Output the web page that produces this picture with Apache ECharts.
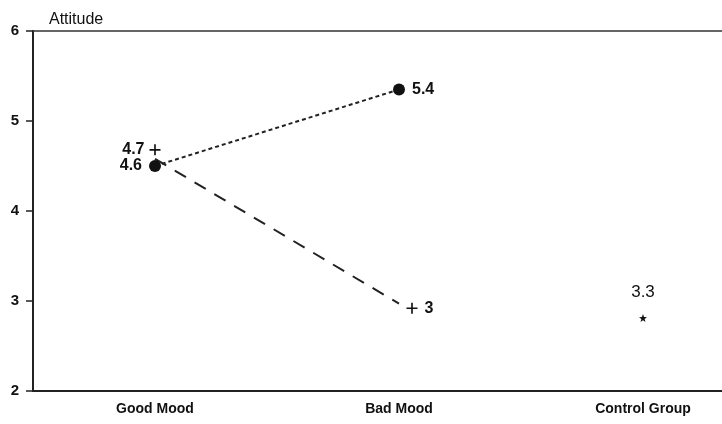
<!DOCTYPE html>
<html>
<head>
<meta charset="utf-8">
<script src="https://cdn.jsdelivr.net/npm/echarts@6/dist/echarts.min.js"></script>
<style>html,body{margin:0;padding:0;background:#fff}#c{width:722px;height:424px}</style>
</head>
<body>
<div id="c"></div>
<script>
var categories = ['Good Mood', 'Bad Mood', 'Control Group'];
var yTicks = [2, 3, 4, 5, 6];
// positions
var dottedLine = [4.5, 5.35, null];       // filled circles
var dashedLine = [4.58, 2.97, null];      // dashed line
var plusGood = [4.68, null, null];        // plus marker, good mood
var plusBad = [null, 2.92, null];         // plus marker, bad mood (drawn right of tick)
var starControl = [null, null, 2.81];     // star marker, control group
// printed value labels
var circleLabels = ['4.6', '5.4', ''];
var circleLabelPos = ['left', 'right', 'right'];
var plusLabels = ['4.7', '3', ''];
var starLabels = ['', '', '3.3'];

var FONT = 'Liberation Sans';
var TXT = '#111';
var lblStyle = {fontFamily: FONT, fontSize: 16, fontWeight: 'bold', color: TXT};

var chart = echarts.init(document.getElementById('c'), null, {renderer: 'canvas'});
var plusPath = 'path://M-0.9,-6H0.9V-0.9H6V0.9H0.9V6H-0.9V0.9H-6V-0.9H-0.9Z';
chart.setOption({
  animation: false,
  backgroundColor: '#fff',
  title: {
    text: 'Attitude', left: 44, top: 7,
    textStyle: {fontFamily: FONT, fontSize: 16, fontWeight: 'normal', color: TXT}
  },
  grid: {left: 33, width: 732, top: 31, height: 360, containLabel: false, outerBoundsMode: 'none'},
  xAxis: [{
    type: 'category', data: categories, boundaryGap: true,
    axisLine: {lineStyle: {color: '#222', width: 2}},
    axisTick: {alignWithLabel: true, length: 7, lineStyle: {color: '#222', width: 2}},
    axisLabel: {margin: 11, fontFamily: FONT, fontSize: 14, fontWeight: 'bold', color: TXT, interval: 0},
    splitLine: {show: false}
  }, {
    type: 'category', data: categories, position: 'top',
    axisLine: {lineStyle: {color: '#333', width: 1.5}},
    axisTick: {show: false}, axisLabel: {show: false}, splitLine: {show: false}
  }],
  yAxis: {
    type: 'value', min: yTicks[0], max: yTicks[yTicks.length - 1], interval: 1,
    axisLine: {show: true, lineStyle: {color: '#222', width: 2}},
    axisTick: {show: true, length: 7, lineStyle: {color: '#222', width: 1.5}},
    axisLabel: {margin: 14, fontFamily: FONT, fontSize: 15, fontWeight: 'bold', color: TXT},
    splitLine: {show: false}
  },
  series: [{
    type: 'line', symbol: 'circle', symbolSize: 12,
    data: dottedLine.map(function(v, i){
      return {value: v, label: {position: circleLabelPos[i]}};
    }),
    itemStyle: {color: '#111'},
    lineStyle: {type: [4, 3], width: 2, color: '#222'},
    label: {show: true, ...lblStyle, distance: 7,
      formatter: function(p){return circleLabels[p.dataIndex];}},
    z: 3
  }, {
    type: 'line', data: dashedLine, symbol: 'none',
    lineStyle: {type: [13, 10], width: 2, color: '#222'}, z: 2
  }, {
    type: 'scatter', data: plusGood, symbol: plusPath, symbolSize: 11,
    itemStyle: {color: '#111', opacity: 1},
    label: {show: true, ...lblStyle, position: 'left', distance: 5,
      formatter: function(p){return plusLabels[p.dataIndex];}}
  }, {
    type: 'scatter', data: plusBad, symbol: plusPath, symbolSize: 11,
    symbolOffset: [13, 0], itemStyle: {color: '#111', opacity: 1},
    label: {show: true, ...lblStyle, position: 'right', distance: 7,
      formatter: function(p){return plusLabels[p.dataIndex];}}
  }, {
    type: 'scatter', data: starControl, symbol: 'path://M0,-10L2.4,-3.2L9.5,-3.1L3.8,1.2L5.9,8.1L0,4L-5.9,8.1L-3.8,1.2L-9.5,-3.1L-2.4,-3.2Z',
    symbolSize: 8, itemStyle: {color: '#111', opacity: 1},
    label: {show: true, ...lblStyle, fontSize: 17, fontWeight: 'normal', position: 'top', distance: 13,
      formatter: function(p){return starLabels[p.dataIndex];}}
  }]
});
</script>
</body>
</html>
